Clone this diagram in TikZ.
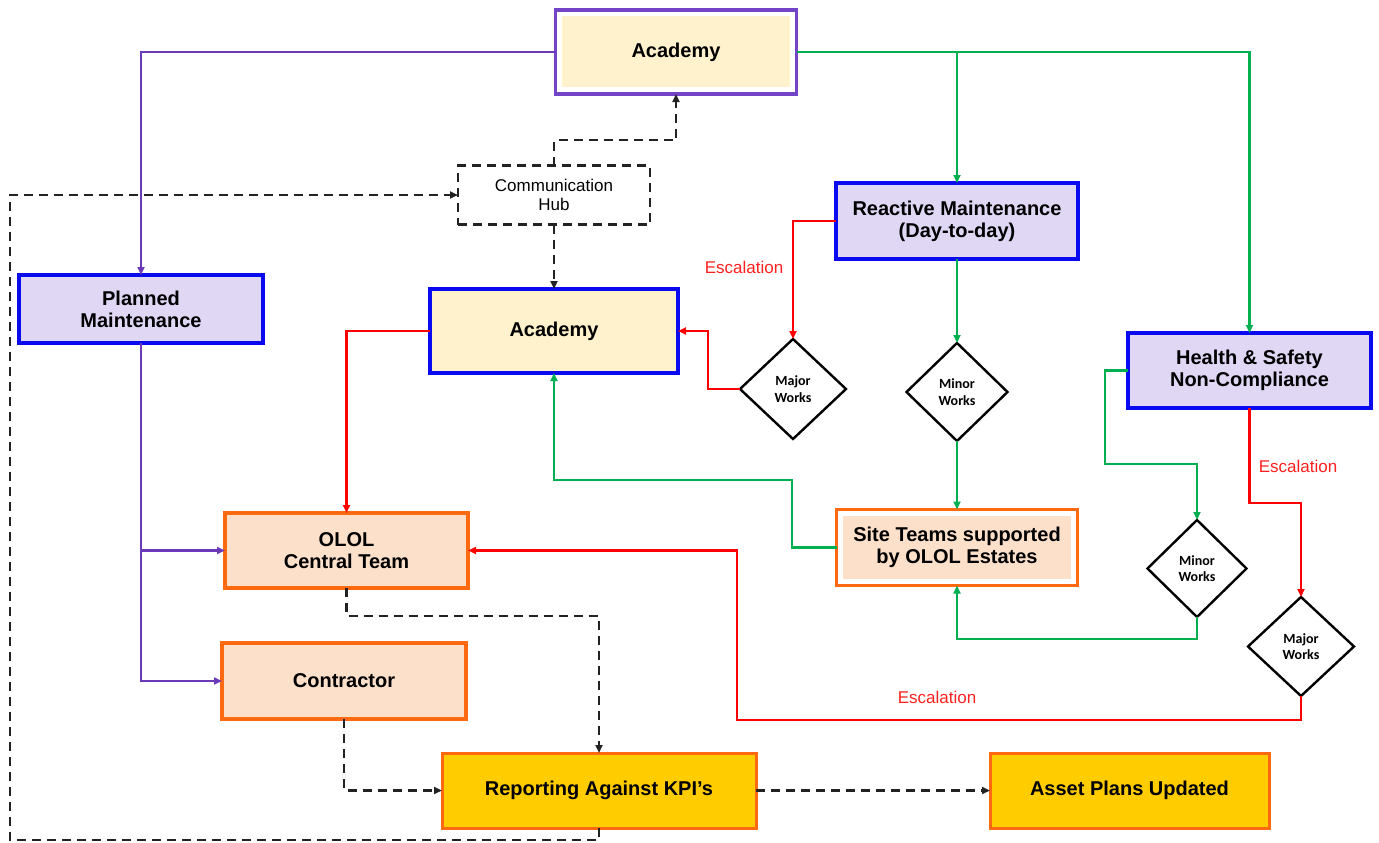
\documentclass[tikz,border=0pt]{standalone}
\usepackage{fontspec}
\setmainfont{Liberation Sans}
\newfontfamily\dfont{Carlito}
\usetikzlibrary{arrows.meta,shapes.geometric,fit}
\definecolor{purpleL}{HTML}{6A3AB8}
\definecolor{purpleB}{HTML}{7444C8}
\definecolor{blueB}{HTML}{0A0AF0}
\definecolor{lav}{HTML}{E0D7F5}
\definecolor{ylight}{HTML}{FFF2CC}
\definecolor{peach}{HTML}{FCE0CA}
\definecolor{orangeB}{HTML}{FF6A10}
\definecolor{gold}{HTML}{FFCC00}
\definecolor{greenL}{HTML}{00B050}
\definecolor{redL}{HTML}{FF0000}
\definecolor{redT}{HTML}{FF2020}
\definecolor{dashC}{HTML}{222222}
\begin{document}
\begin{tikzpicture}[x=1pt,y=-1pt,
  box/.style={rectangle, inner sep=2pt, outer sep=0pt, align=center,
    font=\bfseries\fontsize{20}{22}\selectfont, line width=3.2pt},
  lavbox/.style={box, draw=blueB, fill=lav},
  yelbox/.style={box, draw=blueB, fill=ylight},
  peachbox/.style={box, draw=orangeB, fill=peach},
  goldbox/.style={box, draw=orangeB, fill=gold, line width=3pt},
  dia/.style={diamond, draw=black, line width=2.4pt, fill=white, align=center,
    font=\dfont\bfseries\fontsize{14}{16.5}\selectfont, inner sep=0pt, outer sep=0pt},
  arr/.style={-{Triangle[length=8pt,width=7pt]}, line width=2.4pt},
  pline/.style={arr, draw=purpleL},
  gline/.style={arr, draw=greenL},
  rline/.style={arr, draw=redL},
  dline/.style={arr, draw=dashC, dash pattern=on 9pt off 6pt},
  esc/.style={text=redT, font=\fontsize{17}{19}\selectfont}
]
\useasboundingbox (0,0) rectangle (1379,843);

% nodes
\node[box, fill=ylight, minimum width=228pt, minimum height=71pt] (acadin) at (676,52) {Academy};
\node[fit=(acadin), inner sep=6.5pt, draw=purpleB, line width=3.2pt, outer sep=0pt] (acad1) {};

\node[rectangle, draw=dashC, line width=2.4pt, dash pattern=on 9pt off 6pt,
  minimum width=192pt, minimum height=59pt, align=center, outer sep=0pt,
  font=\fontsize{17}{19}\selectfont] (hub) at (554,195) {Communication\\Hub};

\node[lavbox, minimum width=244pt, minimum height=68pt] (pm) at (141,309) {Planned\\Maintenance};
\node[lavbox, minimum width=242pt, minimum height=76pt] (react) at (957,221) {Reactive Maintenance\\(Day-to-day)};
\node[yelbox, minimum width=248pt, minimum height=84pt] (acad2) at (554,331) {Academy};
\node[lavbox, minimum width=243pt, minimum height=75pt] (hs) at (1249.5,370.5) {Health \& Safety\\Non-Compliance};

\node[dia, minimum width=106pt, minimum height=100pt] (maj1) at (793,389) {Major\\Works};
\node[dia, minimum width=101pt, minimum height=98pt] (min1) at (957,392) {Minor\\Works};
\node[dia, minimum width=99pt, minimum height=97pt] (min2) at (1197,568.5) {Minor\\Works};
\node[dia, minimum width=106pt, minimum height=99pt] (maj2) at (1301,646.5) {Major\\Works};

\node[box, fill=peach, minimum width=228pt, minimum height=63pt] (sitein) at (957,547.5) {Site Teams supported\\by OLOL Estates};
\node[fit=(sitein), inner sep=6.5pt, draw=orangeB, line width=3.2pt, outer sep=0pt] (site) {};

\node[peachbox, minimum width=243pt, minimum height=75pt] (olol) at (346.5,550.5) {OLOL\\Central Team};
\node[peachbox, minimum width=244pt, minimum height=76pt] (contr) at (344,681) {Contractor};
\node[goldbox, minimum width=314pt, minimum height=75pt] (rep) at (599,790.5) {Reporting Against KPI’s};
\node[goldbox, minimum width=279pt, minimum height=75pt] (asset) at (1129.5,790.5) {Asset Plans Updated};

% purple connectors
\draw[pline] (acad1.west) -| (pm.north);
\draw[pline] (pm.south) |- (contr.west);
\draw[pline] (pm.south |- olol.west) -- (olol.west);

% green connectors
\draw[gline] (acad1.east) -| (hs.north);
\draw[gline] (acad1.east -| react.north) -- (react.north);
\draw[gline] (react.south) -- (min1.north);
\draw[gline] (min1.south) -- (site.north);
\draw[gline] (site.west) -- (792,547.5) -- (792,480) -| (acad2.south);
\draw[gline] (hs.west) -- (1105,370.5) -- (1105,464) -| (min2.north);
\draw[gline] (min2.south) -- (1197,639) -| (site.south);

% red connectors
\draw[rline] (react.west) -| (maj1.north);
\draw[rline] (maj1.west) -- (708,389) |- (acad2.east);
\draw[rline] (acad2.west) -| (olol.north);
\draw[rline] (hs.south) -- (1249.5,503) -| (maj2.north);
\draw[rline] (maj2.south) -- (1301,720) -- (737,720) -- (737,550.5) -- (olol.east);

\node[esc] (esc1) at (744,267) {Escalation};
\node[esc] (esc2) at (1298,466) {Escalation};
\node[esc] (esc3) at (937,697) {Escalation};

% dashed connectors
\draw[dline] (hub.north) -- (554,140) -| (acad1.south);
\draw[dline] (hub.south) -- (acad2.north);
\draw[dline] (olol.south) -- (346.5,616) -| (rep.north);
\draw[dline] (contr.south) |- (rep.west);
\draw[dline] (rep.east) -- (asset.west);
\draw[dline] (rep.south) -- (599,840) -- (10,840) |- (hub.west);
\end{tikzpicture}
\end{document}
